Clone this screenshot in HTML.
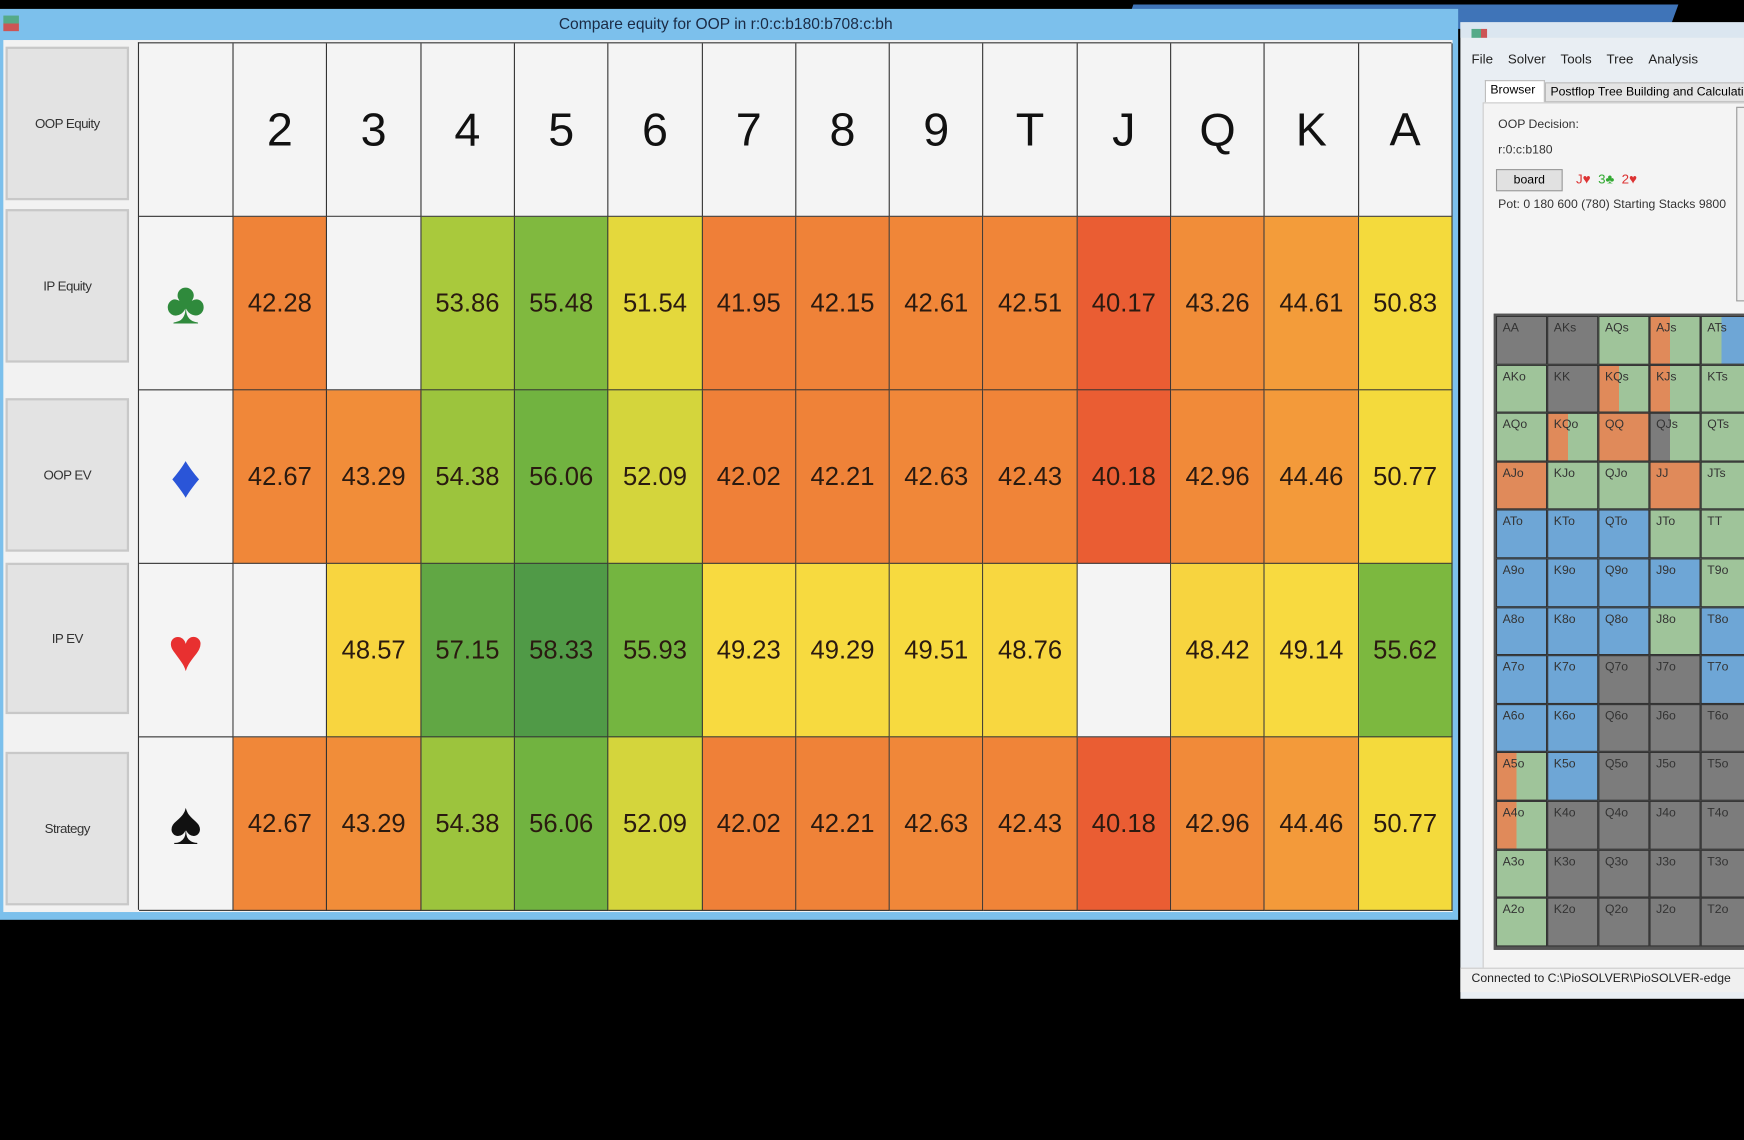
<!DOCTYPE html>
<html><head><meta charset="utf-8">
<style>
html,body{margin:0;padding:0;background:#000;width:1744px;height:1140px;overflow:hidden;font-family:"Liberation Sans",sans-serif}
#stage{position:absolute;left:0;top:0;width:1568px;height:1025px;transform:scale(1.11224);transform-origin:0 0;background:#000}
.abs{position:absolute;box-sizing:border-box}
.lbtn{position:absolute;box-sizing:border-box;left:5px;width:111px;background:#e3e3e3;border:2px solid #c8c8c8;font-size:12px;color:#333;display:flex;align-items:center;justify-content:center;letter-spacing:-0.5px}
.cell{position:absolute;box-sizing:border-box;border-right:1px solid #333;border-bottom:1px solid #333;display:flex;align-items:center;justify-content:center;font-size:23px;color:#2a1a10}
.hcell{position:absolute;box-sizing:border-box;border:1px solid #333;font-size:11px;color:#333;padding:4px 0 0 5px}
</style></head><body>
<div id="stage">
  <div class="abs" style="left:1015px;top:4px;width:490px;height:22px;background:#3f74b8;transform:skewX(-20deg)"></div>
  <div class="abs" style="left:0;top:8px;width:1311px;height:819px;background:#7cc0ec">
    <div class="abs" style="left:3px;top:6px;width:14px;height:14px;background:linear-gradient(#5a8 50%,#c55 50%)"></div>
    <div class="abs" style="left:0;top:5px;width:1305px;text-align:center;font-size:14px;color:#1a2a44">Compare equity for OOP in r:0:c:b180:b708:c:bh</div>
    <div class="abs" style="left:3px;top:28px;width:1303px;height:784px;background:#f2f2f2"></div>
  </div>
  <div class="lbtn" style="top:42px;height:138px">OOP Equity</div>
  <div class="lbtn" style="top:188px;height:138px">IP Equity</div>
  <div class="lbtn" style="top:358px;height:138px">OOP EV</div>
  <div class="lbtn" style="top:506px;height:136px">IP EV</div>
  <div class="lbtn" style="top:676px;height:138px">Strategy</div>
  <div id="grid" class="abs" style="left:124px;top:38px;width:1181px;height:780px;background:#f4f4f4;border-left:1px solid #333;border-top:1px solid #333"></div>

  <div class="abs" style="left:1313px;top:20px;width:255px;height:878px;background:#e9eef3">
    <div class="abs" style="left:0;top:0;width:255px;height:14px;background:#dbe6f0"></div>
    <div class="abs" style="left:10px;top:6px;width:14px;height:8px;background:linear-gradient(90deg,#5a8 60%,#c55 60%)"></div>
    <div class="abs" style="left:10px;top:26px;width:260px;font-size:12px;color:#222;white-space:nowrap;word-spacing:0">
      <span>File</span>&nbsp;&nbsp;&nbsp;&nbsp;<span>Solver</span>&nbsp;&nbsp;&nbsp;&nbsp;<span>Tools</span>&nbsp;&nbsp;&nbsp;&nbsp;<span>Tree</span>&nbsp;&nbsp;&nbsp;&nbsp;<span>Analysis</span>
    </div>
    <div class="abs" style="left:22px;top:52px;width:54px;height:20px;background:#fff;border:1px solid #bbb;border-bottom:none;font-size:11px;padding:2px 4px">Browser</div>
    <div class="abs" style="left:76px;top:54px;width:200px;height:18px;background:#e4e4e4;border:1px solid #bbb;font-size:11px;padding:2px 4px;white-space:nowrap;overflow:hidden">Postflop Tree Building and Calculation</div>
    <div class="abs" style="left:20px;top:72px;width:240px;height:790px;background:#f4f4f4;border:1px solid #ccc"></div>
    <div class="abs" style="left:34px;top:86px;font-size:11px;color:#333">OOP Decision:</div>
    <div class="abs" style="left:34px;top:109px;font-size:11px;color:#333">r:0:c:b180</div>
    <div class="abs" style="left:32px;top:132px;width:60px;height:20px;background:#e1e1e1;border:1px solid #999;font-size:11px;text-align:center;line-height:19px">board</div>
    <div class="abs" style="left:104px;top:134px;font-size:12px;white-space:nowrap"><span style="color:#d33">J♥</span>&nbsp;&nbsp;<span style="color:#3a3">3♣</span>&nbsp;&nbsp;<span style="color:#d33">2♥</span></div>
    <div class="abs" style="left:34px;top:158px;font-size:11px;color:#333;white-space:nowrap">Pot: 0 180 600 (780) Starting Stacks 9800</div>
    <div class="abs" style="left:248px;top:76px;width:10px;height:175px;border:1px solid #999;background:#f0f0f0"></div>
    <div id="hands" class="abs" style="left:30px;top:262px;width:230px;height:572px;border:2px solid #555;background:#555;overflow:hidden"></div>
    <div class="abs" style="left:0;top:850px;width:255px;height:22px;background:#f0f0f0;border-top:1px solid #ccc;font-size:11px;color:#222;padding:3px 0 0 10px;white-space:nowrap;overflow:hidden">Connected to C:\PioSOLVER\PioSOLVER-edge</div>
  </div>
</div>
<script>
const ranks=["2","3","4","5","6","7","8","9","T","J","Q","K","A"];
const suits=["♣","♦","♥","♠"];
const suitColors=["#2f8a3c","#2a55d8","#e83030","#111"];
const clubVals=[42.28,null,53.86,55.48,51.54,41.95,42.15,42.61,42.51,40.17,43.26,44.61,50.83];
const diamondVals=[42.67,43.29,54.38,56.06,52.09,42.02,42.21,42.63,42.43,40.18,42.96,44.46,50.77];
const heartVals=[null,48.57,57.15,58.33,55.93,49.23,49.29,49.51,48.76,null,48.42,49.14,55.62];
const spadeVals=[42.67,43.29,54.38,56.06,52.09,42.02,42.21,42.63,42.43,40.18,42.96,44.46,50.77];
const rows=[clubVals,diamondVals,heartVals,spadeVals];
const stops=[[40,[234,90,50]],[42,[239,128,56]],[44.5,[243,154,58]],[47,[246,196,60]],[49,[248,218,64]],[51,[244,218,60]],[52,[214,214,60]],[54,[166,200,60]],[56,[114,180,64]],[58.5,[78,152,72]]];
function color(v){
  if(v<=stops[0][0])return 'rgb('+stops[0][1]+')';
  for(let i=1;i<stops.length;i++){if(v<=stops[i][0]){const a=stops[i-1],b=stops[i],t=(v-a[0])/(b[0]-a[0]);return 'rgb('+a[1].map((c,k)=>Math.round(c+(b[1][k]-c)*t)).join(',')+')';}}
  return 'rgb('+stops[stops.length-1][1]+')';
}
const grid=document.getElementById('grid');
const suitW=85,colW=(1181-85)/13,hH=156,rH=156;
function xCol(i){return suitW+i*colW;}
function yRow(r){return hH+r*rH;}
function mk(cls,l,t,w,h){const d=document.createElement('div');d.className=cls;d.style.left=l+'px';d.style.top=t+'px';d.style.width=w+'px';d.style.height=h+'px';grid.appendChild(d);return d;}
let c=mk('cell',0,0,suitW,hH);


ranks.forEach((r,i)=>{const d=mk('cell',xCol(i),0,colW,hH);d.textContent=r;d.style.fontSize='42px';d.style.color='#111';

});
rows.forEach((vals,ri)=>{
  const s=mk('cell',0,yRow(ri),suitW,rH);s.textContent=suits[ri];s.style.fontSize='54px';s.style.color=suitColors[ri];
  
  
  vals.forEach((v,ci)=>{
    const d=mk('cell',xCol(ci),yRow(ri),colW,rH);
    
    
    if(v===null){d.style.background='#f4f4f4';}else{d.style.background=color(v);d.textContent=v.toFixed(2);}
  });
});
const handRanks=["A","K","Q","J","T","9","8","7","6","5","4","3","2"];
const handColors=[
["k","k","g","og","gb"],["g","k","og","og","g"],["g","og","o","kg","g"],["o","g","g","o","g"],["b","b","b","g","g"],
["b","b","b","b","g"],["b","b","b","g","b"],["b","b","k","k","b"],["b","b","k","k","k"],["og","b","k","k","k"],
["og","k","k","k","k"],["g","k","k","k","k"],["g","k","k","k","k"]];
const pal={g:"#9fc49a",b:"#6ea6d6",k:"#7c7c7c",o:"#e08a5a"};
const hands=document.getElementById('hands');
const hw=46,hh=43.6;
for(let r=0;r<13;r++)for(let col=0;col<5;col++){
  const d=document.createElement('div');d.className='hcell';
  d.style.left=(col*hw)+'px';d.style.top=(r*hh)+'px';d.style.width=hw+'px';d.style.height=hh+'px';
  const code=handColors[r][col];
  if(code.length===2){d.style.background='linear-gradient(90deg,'+pal[code[0]]+' 40%,'+pal[code[1]]+' 40%)';}else d.style.background=pal[code];
  if(col>r)d.textContent=handRanks[r]+handRanks[col]+'s';else if(col<r)d.textContent=handRanks[col]+handRanks[r]+'o';else d.textContent=handRanks[r]+handRanks[r];
  
  
  hands.appendChild(d);
}
</script>
</body></html>
